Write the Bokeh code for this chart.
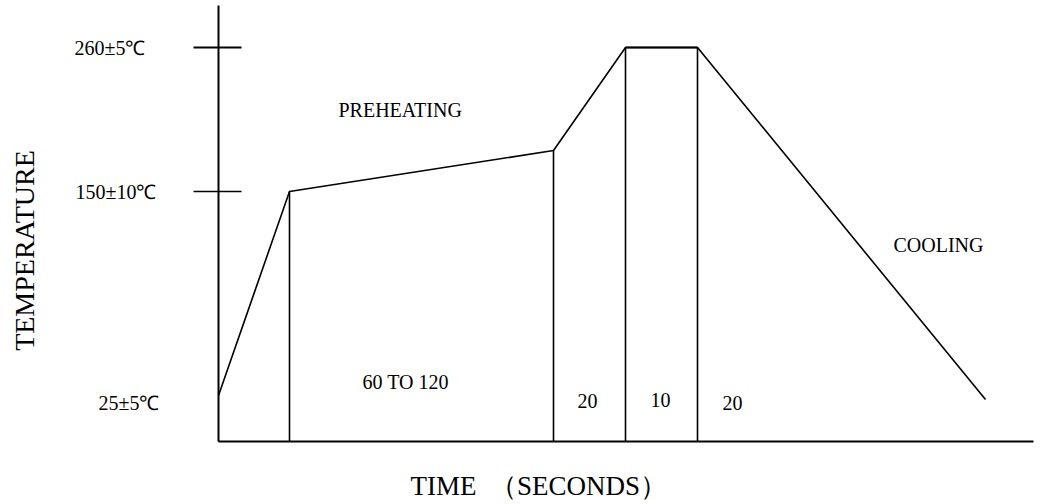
from bokeh.plotting import figure
from bokeh.models import Range1d
from bokeh.embed import file_html
from bokeh.resources import INLINE
from bokeh.core.properties import value
import math

# --- schematic reflow profile (schematic units: time along x, temperature level along y) ---
profile_time = [0, 71, 335, 407, 479, 767]
profile_level = [46, 250, 291, 394, 394, 42]

# phase boundaries (vertical separators)
phase_time = [71, 335, 407, 479]
phase_level = [250, 291, 394, 394]

# temperature marks on the axis
temp_tick_level = [394, 250]
temp_labels = ["260±5℃", "150±10℃", "25±5℃"]
temp_label_level = [394, 250, 39]

# phase annotations
phase_labels = ["PREHEATING", "COOLING", "60 TO 120", "20", "10", "20"]
phase_label_time = [120, 675, 144, 359, 432, 504]
phase_label_level = [332, 197, 60, 41, 42, 39]

axis_time_max = 815
axis_level_max = 436

FONT = value("Liberation Serif")

p = figure(width=1045, height=500, output_backend="svg", toolbar_location=None,
           x_range=Range1d(-218, 827), y_range=Range1d(-59, 441),
           min_border=0)
p.axis.visible = False
p.grid.visible = False
p.outline_line_color = None
p.background_fill_color = "white"
p.border_fill_color = "white"

# axes lines
p.line([0, 0], [0, axis_level_max], line_color="black", line_width=2)
p.line([0, axis_time_max], [0, 0], line_color="black", line_width=2.2)

# axis ticks
p.segment(x0=[-25] * len(temp_tick_level), y0=temp_tick_level,
          x1=[23] * len(temp_tick_level), y1=temp_tick_level,
          line_color="black", line_width=[2, 1.5])

# profile
p.line(profile_time, profile_level, line_color="black", line_width=1.6)
p.line(profile_time[3:5], profile_level[3:5], line_color="black", line_width=2.2)

# vertical phase separators
p.segment(x0=phase_time, y0=[0] * len(phase_time), x1=phase_time, y1=phase_level,
          line_color="black", line_width=1.6)

# temperature labels
p.text(x=[-144, -143, -120], y=temp_label_level, text=temp_labels,
       text_font=FONT, text_font_size="20px", text_color="black",
       text_align="left", text_baseline="middle")

# phase labels
p.text(x=phase_label_time, y=phase_label_level, text=phase_labels,
       text_font=FONT, text_font_size="20px", text_color="black",
       text_align="left", text_baseline="middle")

# axis titles
p.text(x=[-194], y=[191], text=["TEMPERATURE"], angle=math.pi / 2,
       text_font=FONT, text_font_size="28px", text_color="black",
       text_align="center", text_baseline="middle")
p.text(x=[192], y=[-44], text=["TIME \u00a0（SECONDS）"],
       text_font=FONT, text_font_size="27px", text_color="black",
       text_align="left", text_baseline="middle")

open("out.html", "w").write(file_html(p, INLINE))
